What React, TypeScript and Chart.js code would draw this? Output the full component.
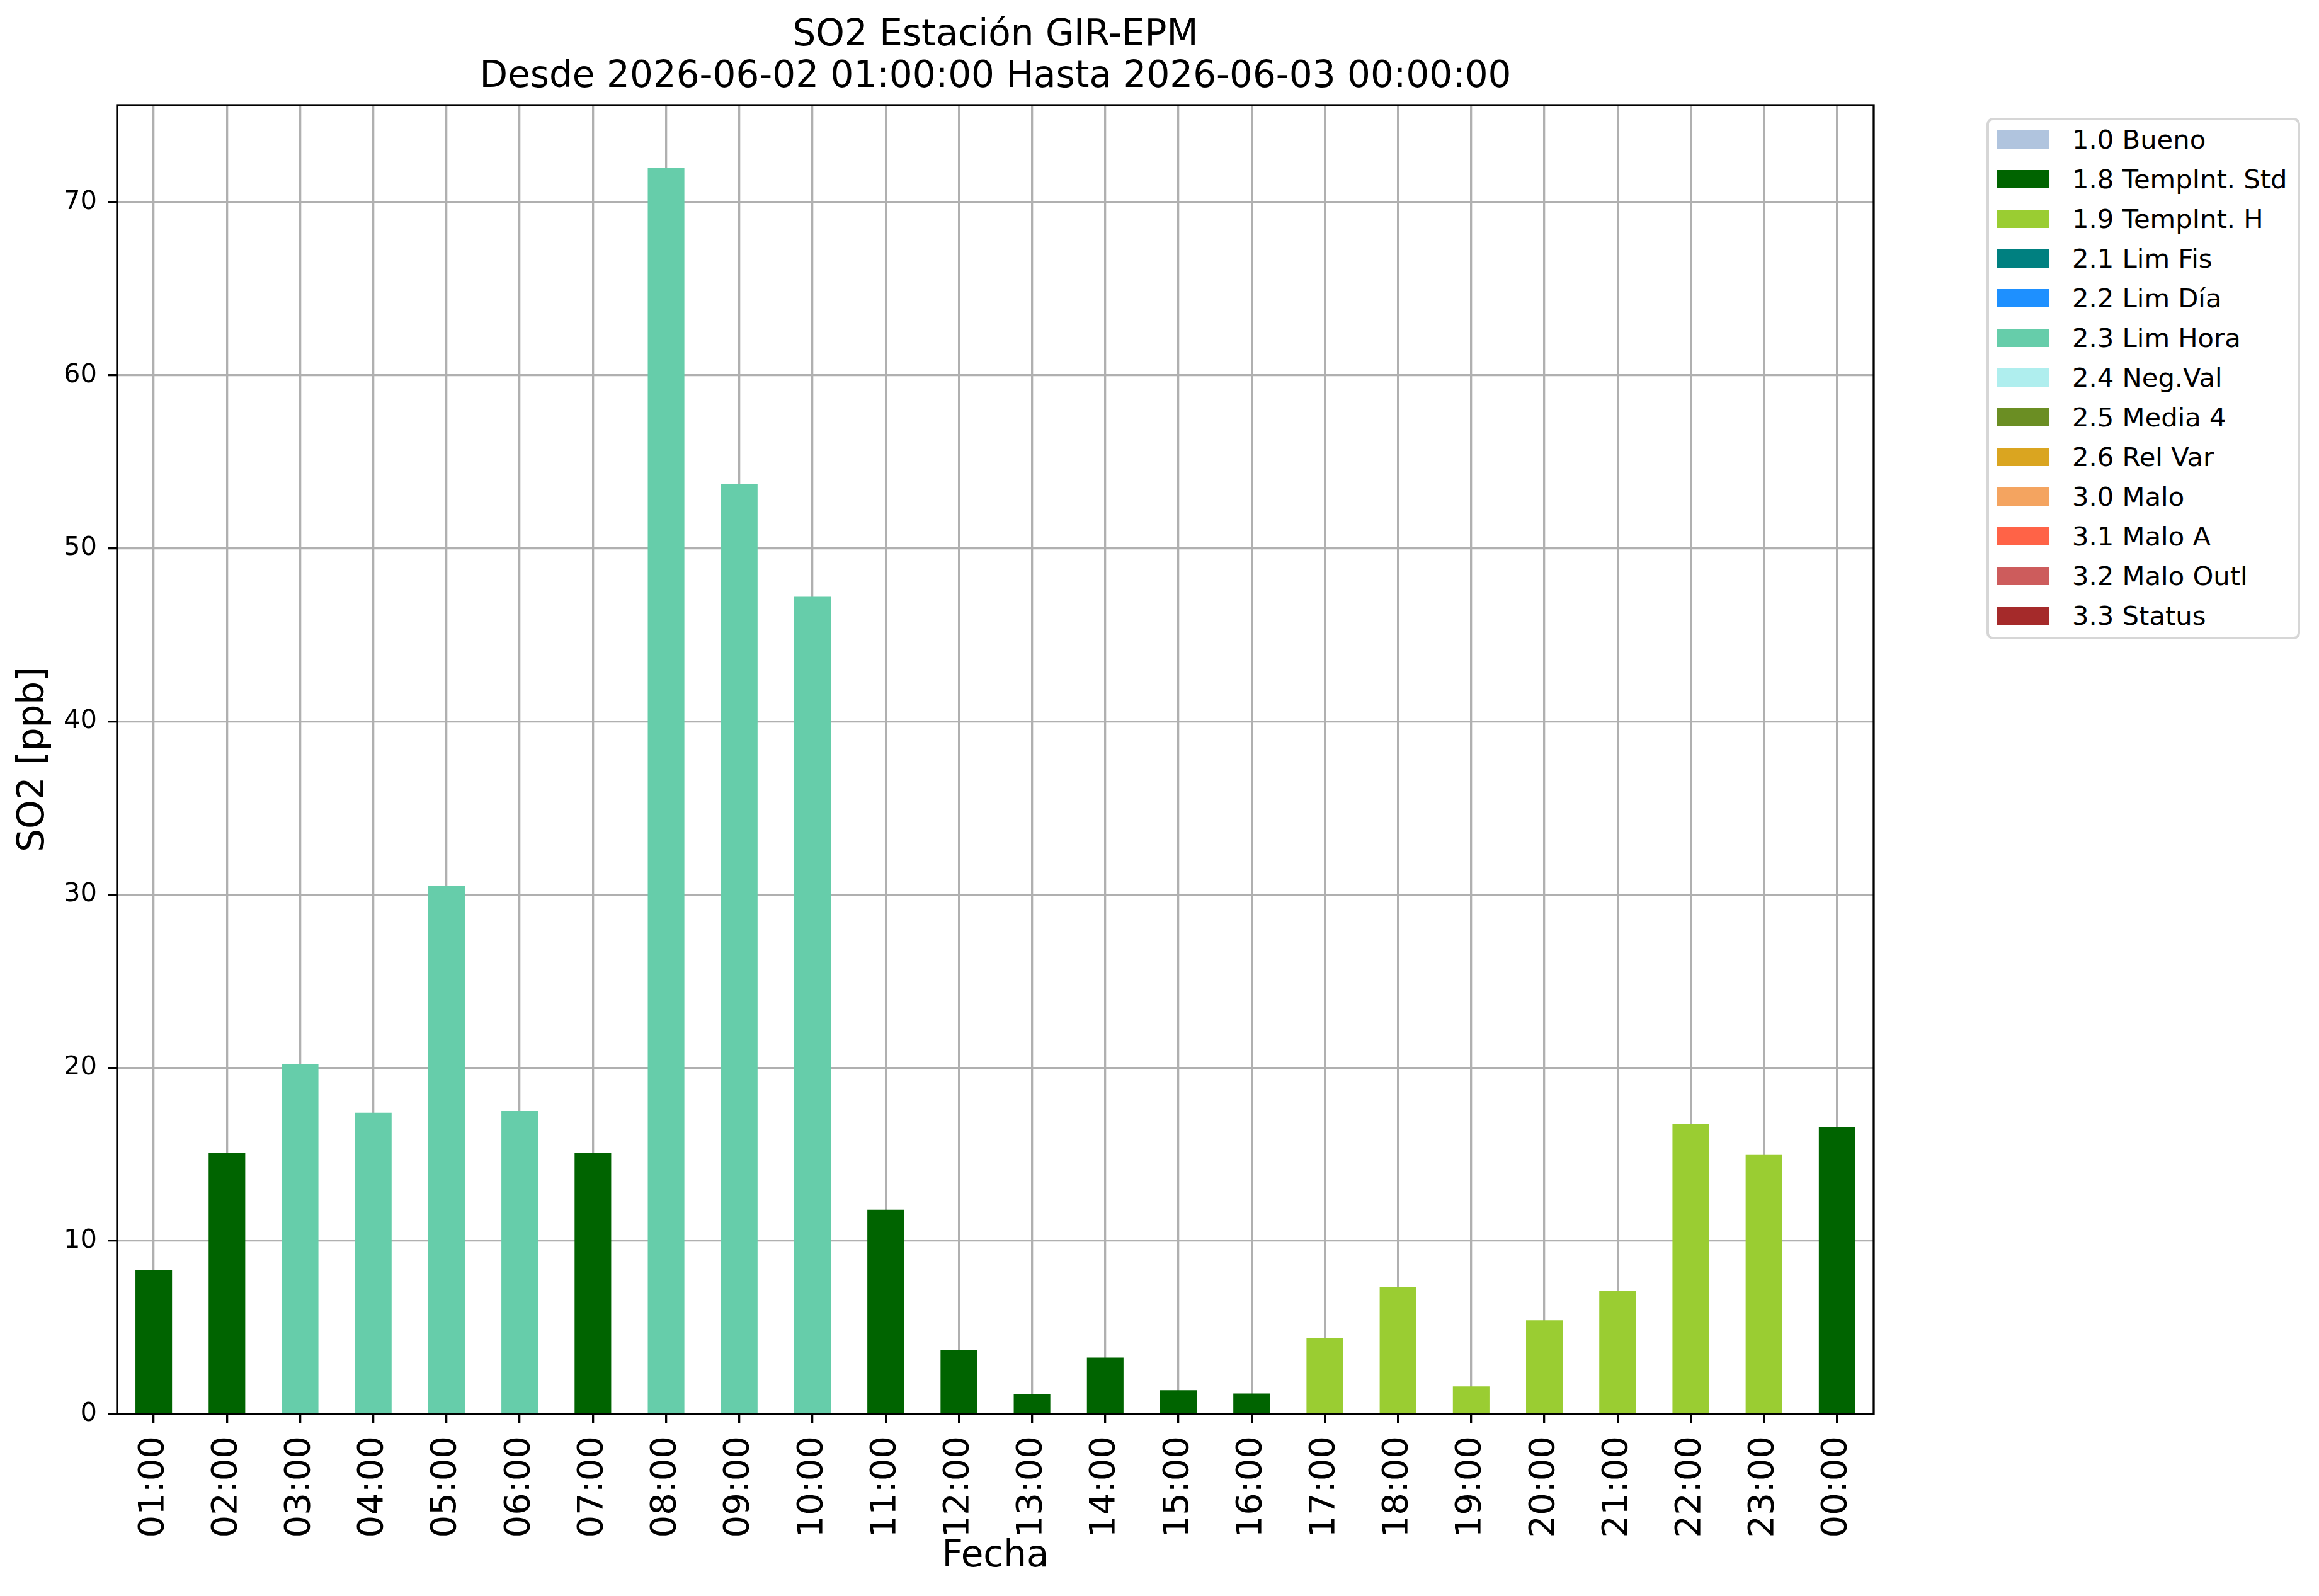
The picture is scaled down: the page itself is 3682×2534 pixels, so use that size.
import { useEffect, useRef } from 'react'
import Chart from 'chart.js/auto'

const hours = [
  '01:00', '02:00', '03:00', '04:00', '05:00', '06:00', '07:00', '08:00',
  '09:00', '10:00', '11:00', '12:00', '13:00', '14:00', '15:00', '16:00',
  '17:00', '18:00', '19:00', '20:00', '21:00', '22:00', '23:00', '00:00',
]
const so2 = [
  8.3, 15.1, 20.2, 17.4, 30.5, 17.5, 15.1, 72.0,
  53.7, 47.2, 11.8, 3.7, 1.15, 3.26, 1.37, 1.18,
  4.37, 7.35, 1.59, 5.41, 7.09, 16.75, 14.96, 16.58,
]
const hourFlags = [
  '1.8', '1.8', '2.3', '2.3', '2.3', '2.3', '1.8', '2.3',
  '2.3', '2.3', '1.8', '1.8', '1.8', '1.8', '1.8', '1.8',
  '1.9', '1.9', '1.9', '1.9', '1.9', '1.9', '1.9', '1.8',
]
const flagCodes = ['1.0', '1.8', '1.9', '2.1', '2.2', '2.3', '2.4', '2.5', '2.6', '3.0', '3.1', '3.2', '3.3']
const flagNames = [
  'Bueno', 'TempInt. Std', 'TempInt. H', 'Lim Fis', 'Lim Día', 'Lim Hora',
  'Neg.Val', 'Media 4', 'Rel Var', 'Malo', 'Malo A', 'Malo Outl', 'Status',
]
const flagColors = [
  '#B0C4DE', '#006400', '#9ACD32', '#008080', '#1E90FF', '#66CDAA',
  '#AFEEEE', '#6B8E23', '#DAA520', '#F4A460', '#FF6347', '#CD5C5C', '#A52A2A',
]
const yTicks = [0, 10, 20, 30, 40, 50, 60, 70]

const FONT = "'DejaVu Sans', sans-serif"
const LW = 3.3

// black frame around the plot area (matplotlib spines)
const framePlugin = {
  id: 'frame',
  afterDraw(chart: any) {
    const { ctx, chartArea } = chart
    ctx.save()
    ctx.strokeStyle = '#000'
    ctx.lineWidth = LW
    ctx.strokeRect(chartArea.left, chartArea.top, chartArea.right - chartArea.left, chartArea.bottom - chartArea.top)
    ctx.restore()
  },
}

function Legend() {
  return (
    <div style={{
      position: 'absolute', left: 3154, top: 187, width: 498, height: 828,
      boxSizing: 'border-box', border: '4px solid #d6d6d6', borderRadius: 10,
      background: '#fff', fontFamily: FONT, fontSize: 41.7, color: '#000',
    }}>
      {flagCodes.map((code, i) => (
        <div key={code}>
          <div style={{
            position: 'absolute', left: 13, top: 16 + 63 * i, width: 83, height: 29,
            background: flagColors[i],
          }} />
          <div style={{
            position: 'absolute', left: 132, top: 16 + 63 * i - 15.5, height: 60,
            lineHeight: '60px', whiteSpace: 'nowrap',
          }}>{code} {flagNames[i]}</div>
        </div>
      ))}
    </div>
  )
}

export default function App() {
  const canvasRef = useRef<HTMLCanvasElement>(null)
  const chartRef = useRef<Chart | null>(null)

  useEffect(() => {
    document.body.style.margin = '0'
    if (!canvasRef.current) return
    const ctx = canvasRef.current.getContext('2d')
    if (!ctx) return

    const datasets = flagCodes.map((code, i) => ({
      label: `${code} ${flagNames[i]}`,
      data: so2.map((v, j) => (hourFlags[j] === code ? v : null)),
      backgroundColor: flagColors[i],
      borderWidth: 0,
      barPercentage: 0.5,
      categoryPercentage: 1.0,
    }))

    chartRef.current = new Chart(ctx, {
      type: 'bar',
      data: { labels: hours, datasets },
      plugins: [framePlugin],
      options: {
        responsive: true,
        maintainAspectRatio: false,
        devicePixelRatio: 1,
        animation: false,
        layout: { padding: { left: 0, right: 707, top: 0, bottom: 0 } },
        plugins: {
          legend: { display: false },
          tooltip: { enabled: false },
          title: {
            display: true,
            fullSize: false,
            text: ['SO2 Estación GIR-EPM', 'Desde 2026-06-02 01:00:00 Hasta 2026-06-03 00:00:00'],
            color: '#000',
            font: { family: FONT, size: 58, weight: 'normal', lineHeight: 66 / 58 },
            padding: { top: 24, bottom: 11 },
          },
        },
        scales: {
          x: {
            stacked: true,
            offset: true,
            z: 1,
            afterFit: (scale: any) => { scale.height = 289 },
            border: { display: false },
            grid: {
              offset: false,
              color: '#b0b0b0',
              lineWidth: LW,
              tickColor: '#000',
              tickWidth: LW,
              tickLength: 15,
            },
            ticks: {
              autoSkip: false,
              minRotation: 90,
              maxRotation: 90,
              padding: 20,
              color: '#000',
              font: { family: FONT, size: 56 },
            },
            title: {
              display: true,
              text: 'Fecha',
              color: '#000',
              font: { family: FONT, size: 58 },
              padding: { top: 0, bottom: 27 },
            },
          },
          y: {
            stacked: true,
            min: 0,
            max: 75.6,
            z: 1,
            afterFit: (scale: any) => { scale.width = 186 },
            afterBuildTicks: (scale: any) => { scale.ticks = yTicks.map((v) => ({ value: v })) },
            border: { display: false },
            grid: {
              color: '#b0b0b0',
              lineWidth: LW,
              tickColor: '#000',
              tickWidth: LW,
              tickLength: 15,
            },
            ticks: {
              includeBounds: false,
              padding: 17,
              color: '#000',
              font: { family: FONT, size: 41.7 },
            },
            title: {
              display: true,
              text: 'SO2 [ppb]',
              color: '#000',
              font: { family: FONT, size: 58 },
              padding: { top: 19, bottom: 0 },
            },
          },
        },
      },
    })

    return () => {
      if (chartRef.current) chartRef.current.destroy()
    }
  }, [])

  return (
    <div style={{ position: 'relative', width: 3682, height: 2534, background: '#fff' }}>
      <canvas ref={canvasRef}></canvas>
      <Legend />
    </div>
  )
}
